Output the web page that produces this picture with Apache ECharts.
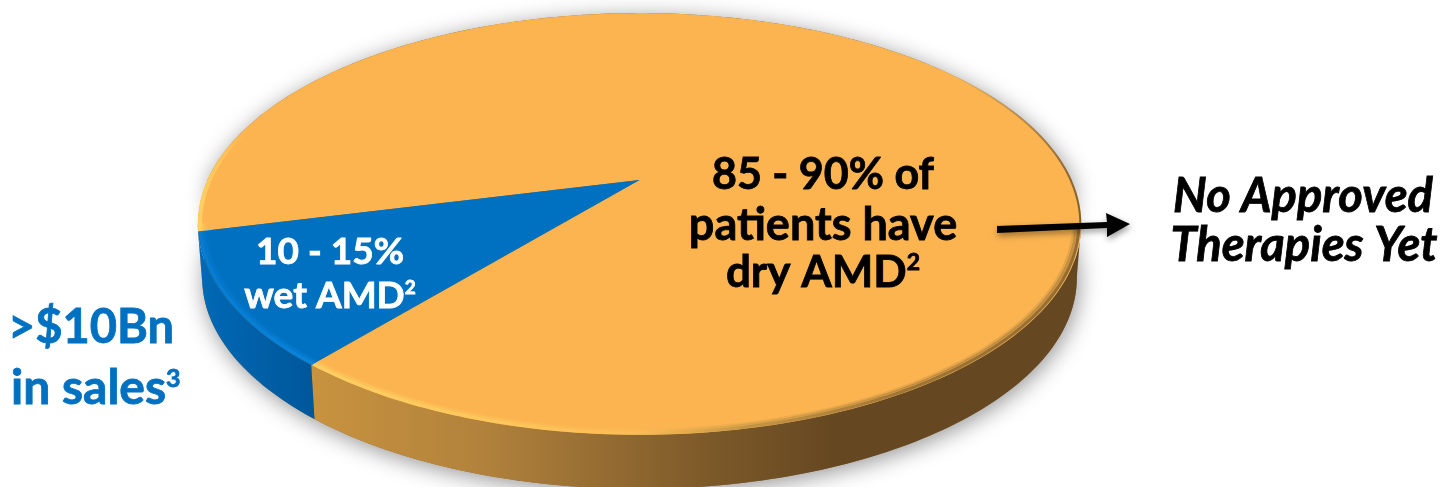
<!DOCTYPE html>
<html><head><meta charset="utf-8">
<script src="https://cdn.jsdelivr.net/npm/echarts@6/dist/echarts.min.js"></script>
<style>html,body{margin:0;padding:0;background:#fff}#c{width:1441px;height:487px}</style>
</head><body><div id="c"></div>
<script>
// data
const categories = ['dry AMD', 'wet AMD'];
const shares = [89.9, 10.1];
const topColors = ['#FBB450', '#0070C0'];

// disc layout (a tilted circle under perspective)
const cx = 639.5, cy = 180, A = 432, B = 201.7, K = 0.2085;
const START = 166, DEPTH = 54, SHRINK = 0.99;
const total = shares.reduce((a, b) => a + b, 0);
const rad = d => d * Math.PI / 180;
const face = (deg, r = 1) => {
  const x = r * Math.cos(rad(deg)), y = r * Math.sin(rad(deg)), w = 1 - K * y;
  return [cx + A * x / w, cy + B * y / w];
};
const low = deg => { const p = face(deg); return [cx + (p[0] - cx) * SHRINK, p[1] + DEPTH]; };
const arc = (f, a, b) => { const n = Math.max(2, Math.ceil(Math.abs(b - a))), o = [];
  for (let i = 0; i <= n; i++) o.push(f(a + (b - a) * i / n)); return o; };
const grad = (x0, x1, stops) => ({ type: 'linear', x: x0, y: 0, x2: x1, y2: 0, global: true,
  colorStops: stops.map(s => ({ offset: s[0], color: s[1] })) });
const FRONT_L = 12, FRONT_R = 168;

const wallFill = [
  grad(313, 1082, [[0, '#C8933F'], [0.22, '#B2823C'], [0.5, '#7F5B2A'], [0.68, '#654721'], [1, '#654721']]),
  grad(198, 313, [[0, '#0069B6'], [1, '#00579A']])
];
const rimFill = [
  grad(197, 1082, [[0, '#FFD062'], [0.14, '#FFD466'], [0.35, '#FFCB5E'], [0.5, '#FBBE55'], [0.62, '#B98F42'], [0.8, '#8A6630'], [1, '#7A5A2A']]),
  grad(198, 313, [[0, '#0A7FD6'], [1, '#0C88E4']])
];

function renderSlice(params, api) {
  const i = params.dataIndex, v = api.value(0);
  let s = START;
  for (let j = 0; j < i; j++) s += shares[j] / total * 360;
  const e = s + v / total * 360, kids = [];
  // side wall: front part only
  for (const off of [0, 360]) {
    const a = Math.max(s, FRONT_L + off), b = Math.min(e, FRONT_R + off);
    if (b > a) kids.push({ type: 'polygon', shape: { points: arc(face, a, b).concat(arc(low, b, a)) },
      style: { fill: wallFill[i] } });
  }
  // top face
  kids.push({ type: 'polygon', shape: { points: [[cx, cy]].concat(arc(face, s, e)) }, style: { fill: topColors[i] } });
  // soft bevel along the rim
  for (const off of [0, 360]) {
    const a = Math.max(s, FRONT_L + off), b = Math.min(e, FRONT_R + off);
    if (b > a) {
      for (const [r, o] of [[0.984, 0.18], [0.989, 0.4], [0.995, 0.8]]) {
        kids.push({ type: 'polyline', shape: { points: arc(d => face(d, r), a, b) },
          style: { fill: null, stroke: rimFill[i], lineWidth: 3, opacity: o } });
      }
    }
  }
  if (i === 0) {
    kids.push({ type: 'polyline', shape: { points: arc(d => face(d, 0.998), 300, 372) },
      style: { fill: null, stroke: grad(960, 1082, [[0, 'rgba(140,100,50,0)'], [1, 'rgba(120,85,40,0.9)']]), lineWidth: 2 } });
    kids.push({ type: 'polyline', shape: { points: arc(d => face(d, 0.995), START, 215) },
      style: { fill: null, stroke: grad(197, 250, [[0, '#FFD062'], [1, 'rgba(255,208,98,0)']]), lineWidth: 4 } });
  }
  return { type: 'group', children: kids };
}

function renderShadow() {
  const pts = arc(face, 180, 360).concat(arc(low, 0, 180));
  return { type: 'polygon', shape: { points: pts },
    style: { fill: '#8a6a3a', shadowBlur: 22, shadowColor: 'rgba(0,0,0,0.42)', shadowOffsetY: 4, shadowOffsetX: 2 } };
}

const text = (x, y, t, font, fill, extra) => ({ type: 'text', x, y, z: 20,
  style: Object.assign({ text: t, font, fill, align: 'center', verticalAlign: 'middle', stroke: fill, lineWidth: 0.8 }, extra) });
const sup = (size, dy, fill) => ({ fontSize: size, fontWeight: 'bold', fontFamily: 'Lato', padding: [0, 0, dy, 0], fill, stroke: fill, lineWidth: 0.8 });

const chart = echarts.init(document.getElementById('c'), null, { renderer: 'canvas' });
chart.setOption({
  animation: false,
  backgroundColor: '#fff',
  series: [
    { type: 'custom', coordinateSystem: 'none', silent: true, z: 1, data: [[total]], renderItem: renderShadow },
    { type: 'custom', coordinateSystem: 'none', silent: true, z: 2,
      data: shares.map((v, i) => ({ name: categories[i], value: [v] })), renderItem: renderSlice }
  ],
  graphic: [
    text(823, 175, '85 - 90% of', 'bold 43px Lato', '#000'),
    text(823, 225, 'patients have', 'bold 45px Lato', '#000'),
    text(823, 273, 'dry AMD{s|2}', 'bold 44px Lato', '#000', { rich: { s: sup(23, 20, '#000') } }),
    text(330, 252, '10 - 15%', 'bold 37px Lato', '#fff'),
    text(330, 296, 'wet AMD{s|2}', 'bold 37px Lato', '#fff', { rich: { s: sup(19, 16, '#fff') } }),
    text(8, 328, '>$10Bn', 'bold 47px Lato', '#0070C0', { align: 'left' }),
    text(11, 389, 'in sales{s|3}', 'bold 48px Lato', '#0070C0', { align: 'left', rich: { s: sup(25, 20, '#0070C0') } }),
    text(1303, 197, 'No Approved', 'italic bold 47px Lato', '#000'),
    text(1304, 246, 'Therapies Yet', 'italic bold 47px Lato', '#000'),
    { type: 'polygon', z: 15, shape: { points: [[997, 226], [1107, 222], [1106, 213], [1130, 224], [1107, 237], [1107, 228], [997, 233]] },
      style: { fill: '#000', shadowBlur: 6, shadowColor: 'rgba(0,0,0,0.4)', shadowOffsetY: 3, shadowOffsetX: 1 } }
  ]
});
</script></body></html>
